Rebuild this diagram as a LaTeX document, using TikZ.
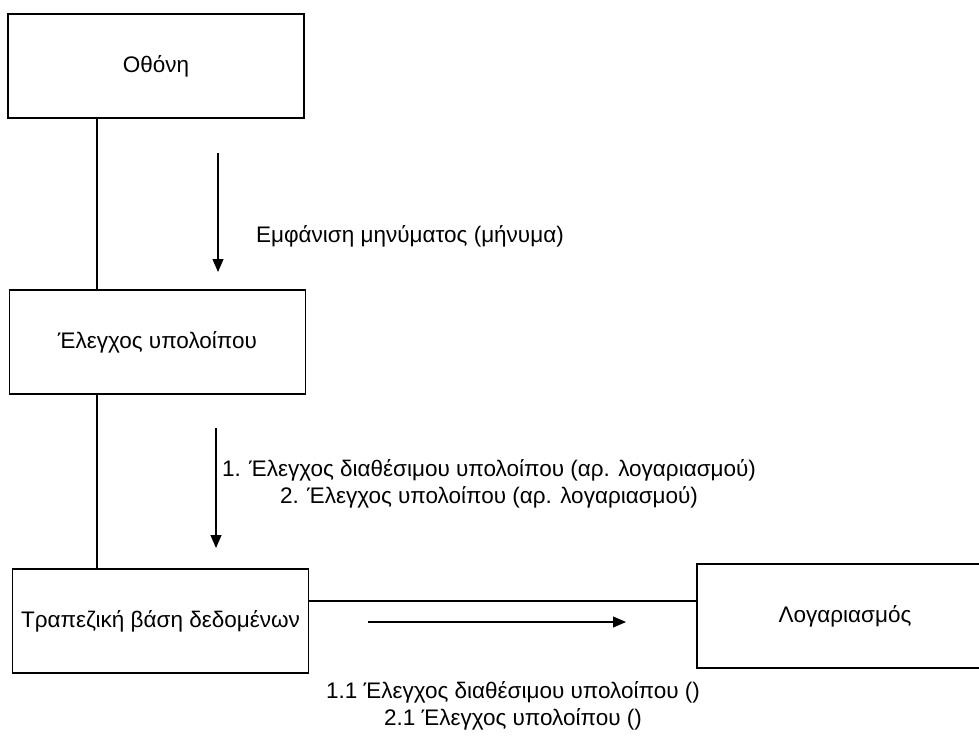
\documentclass[tikz,border=0pt]{standalone}
\usepackage{fontspec}
\setmainfont{Liberation Sans}
\usetikzlibrary{arrows.meta}
\begin{document}
\begin{tikzpicture}[x=1pt,y=-1pt,
  obj/.style={draw, line width=1.1pt, minimum width=296pt, minimum height=104pt,
              inner sep=0pt, font=\fontsize{22.5}{27}\selectfont},
  msg/.style={font=\fontsize{22.5}{27}\selectfont, align=center, inner sep=0pt},
  link/.style={line width=1.1pt},
  flow/.style={line width=1.1pt, -{Triangle[length=13pt,width=11pt]}}]
  \useasboundingbox (0,0) rectangle (979,737);
  \clip (0,0) rectangle (979,737);

  % objects
  \node[obj] (scr) at (156,66) {Οθόνη};
  \node[obj] (chk) at (157.5,342) {Έλεγχος υπολοίπου};
  \node[obj] (db)  at (160.5,621) {Τραπεζική βάση δεδομένων};
  \node[obj] (acc) at (845,616) {Λογαριασμός};

  % links between objects
  \coordinate (lx) at (97,0);
  \coordinate (hy) at (0,601);
  \draw[link] (scr.south -| lx) -- (chk.north -| lx);
  \draw[link] (chk.south -| lx) -- (db.north -| lx);
  \draw[link] (db.east |- hy) -- (acc.west |- hy);

  % message arrows
  \coordinate (m1s) at (218,153);
  \coordinate (m1e) at (218,272);
  \draw[flow] (m1s) -- (m1e);
  \node[msg] (m1) at (410,236) {Εμφάνιση μηνύματος (μήνυμα)};

  \coordinate (m2s) at (216,428);
  \coordinate (m2e) at (216,548);
  \draw[flow] (m2s) -- (m2e);
  \node[msg] (m2) at (489,484) {1. Έλεγχος διαθέσιμου υπολοίπου (αρ. λογαριασμού)\\
                                2. Έλεγχος υπολοίπου (αρ. λογαριασμού)};

  \coordinate (m3s) at (368,622);
  \coordinate (m3e) at (626,622);
  \draw[flow] (m3s) -- (m3e);
  \node[msg] (m3) at (513,706) {1.1 Έλεγχος διαθέσιμου υπολοίπου ()\\
                                2.1 Έλεγχος υπολοίπου ()};
\end{tikzpicture}
\end{document}
